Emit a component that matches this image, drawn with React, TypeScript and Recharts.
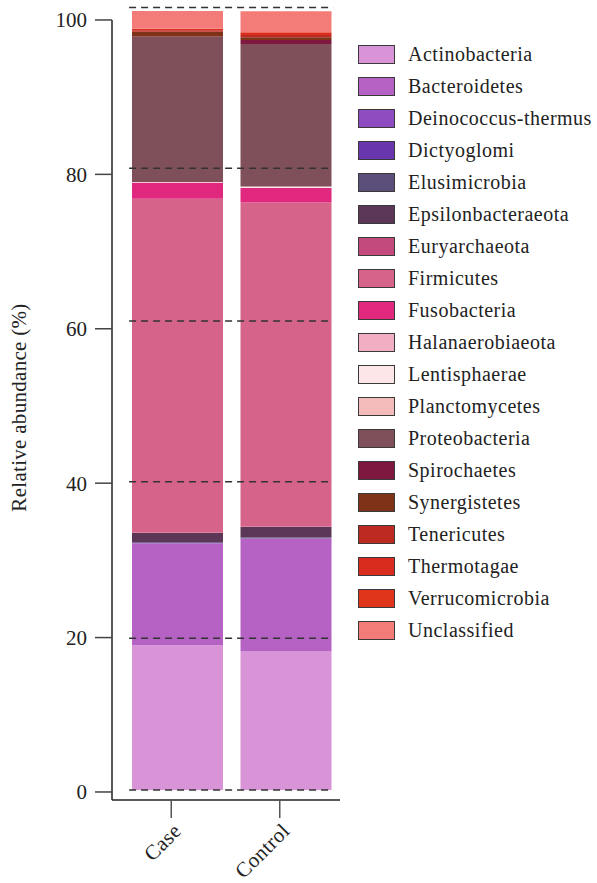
import React from 'react';
import { BarChart, Bar, XAxis, YAxis, Legend, ReferenceLine } from 'recharts';

const fontFamily = '"Liberation Serif", "DejaVu Serif", serif';

const categories = ['Case', 'Control'];

const phyla = [
  'Actinobacteria',
  'Bacteroidetes',
  'Deinococcus-thermus',
  'Dictyoglomi',
  'Elusimicrobia',
  'Epsilonbacteraeota',
  'Euryarchaeota',
  'Firmicutes',
  'Fusobacteria',
  'Halanaerobiaeota',
  'Lentisphaerae',
  'Planctomycetes',
  'Proteobacteria',
  'Spirochaetes',
  'Synergistetes',
  'Tenericutes',
  'Thermotagae',
  'Verrucomicrobia',
  'Unclassified'
];

const phylumColors = [
  '#D994D8',
  '#B562C4',
  '#8E4CC0',
  '#6A36AE',
  '#5B4F7A',
  '#5C3657',
  '#C34A7D',
  '#D6648A',
  '#E0287F',
  '#F2AFC4',
  '#FDE6E8',
  '#F4BBBB',
  '#80505A',
  '#7E1840',
  '#7E3318',
  '#BC2A22',
  '#D92C1F',
  '#E0351A',
  '#F47C78'
];

// relative abundance (%) per phylum, same order as phyla
const caseValues = [
  18.5, 13.0, 0.05, 0.02, 0.08, 1.2, 0.05, 42.65, 2.05, 0.02,
  0.05, 0.02, 18.55, 0.05, 0.6, 0.2, 0.15, 0.05, 2.25
];
const controlValues = [
  17.7, 14.4, 0.05, 0.02, 0.1, 1.35, 0.05, 41.4, 1.85, 0.03,
  0.15, 0.03, 18.2, 0.5, 0.35, 0.3, 0.25, 0.1, 2.7
];

const yTicks = [0, 20, 40, 60, 80, 100];
// dashed guide lines as they sit in the figure (tick axis units)
const dashLevels = [0.26, 19.9, 40.2, 61, 80.8, 101.6];

const data = categories.map((group, ci) => {
  const values = ci === 0 ? caseValues : controlValues;
  const row: Record<string, string | number> = { group };
  phyla.forEach((p, i) => {
    row[p] = values[i];
  });
  return row;
});

const CategoryTick = (props: any) => {
  const { x, y, payload } = props;
  const ly = y + 3;
  return (
    <g>
      <line x1={x - 6} x2={x - 6} y1={y - 24} y2={y - 6} stroke="#555" strokeWidth={1.5} />
      <text
        x={x}
        y={ly}
        dy="0.35em"
        textAnchor="end"
        transform={`rotate(-45, ${x}, ${ly})`}
        fontSize={21}
        fill="#222"
        fontFamily={fontFamily}
        style={{ letterSpacing: 0.4 }}
      >
        {payload.value}
      </text>
    </g>
  );
};

const YLabel = (props: any) => {
  const { viewBox } = props;
  const cx = 19;
  const cy = viewBox.y + viewBox.height / 2 + 4;
  return (
    <text
      x={cx}
      y={cy}
      transform={`rotate(-90, ${cx}, ${cy})`}
      textAnchor="middle"
      dominantBaseline="central"
      fontSize={21}
      fill="#222"
      fontFamily={fontFamily}
      style={{ letterSpacing: 0.3 }}
    >
      Relative abundance (%)
    </text>
  );
};

const renderLegend = () => (
  <div style={{ fontFamily, fontSize: 20, color: '#222' }}>
    {phyla.map((p, i) => (
      <div key={p} style={{ display: 'flex', alignItems: 'center', height: 32 }}>
        <span
          style={{
            display: 'inline-block',
            width: 37,
            height: 19,
            boxSizing: 'border-box',
            border: '1.5px solid #3a3a3a',
            background: phylumColors[i],
            marginRight: 13
          }}
        />
        <span style={{ letterSpacing: 0.5, whiteSpace: 'nowrap', lineHeight: '32px' }}>{p}</span>
      </div>
    ))}
  </div>
);

export default function App() {
  return (
    <div style={{ position: 'absolute', left: 0, top: 0, background: '#fff' }}>
      <BarChart
        width={597}
        height={883}
        data={data}
        margin={{ top: 7, right: 257, bottom: 23, left: 0 }}
        barCategoryGap={9}
      >
        <XAxis
          dataKey="group"
          height={60}
          padding={{ left: 11, right: 0 }}
          axisLine={{ stroke: '#222', strokeWidth: 1.5 }}
          tickLine={false}
          tickSize={18}
          tickMargin={6}
          tick={<CategoryTick />}
          interval={0}
        />
        <XAxis xAxisId="n" type="number" domain={[0, 1]} hide allowDataOverflow />
        <YAxis yAxisId="bar" type="number" hide width={0} domain={[-1.28, 100.06]} allowDataOverflow />
        <YAxis
          yAxisId="tick"
          type="number"
          width={112}
          domain={[-1.04, 101.68]}
          allowDataOverflow
          ticks={yTicks}
          interval={0}
          axisLine={false}
          tickSize={17}
          tickMargin={8}
          tickLine={{ stroke: '#444', strokeWidth: 1.5 }}
          tick={{ fontSize: 21, fill: '#222', fontFamily }}
          label={<YLabel />}
        />
        <Legend
          content={renderLegend}
          layout="vertical"
          align="center"
          verticalAlign="middle"
          wrapperStyle={{ left: 358, top: 38, width: 239 }}
        />
        {phyla.map((p, i) => (
          <Bar
            key={p}
            dataKey={p}
            stackId="a"
            yAxisId="bar"
            fill={phylumColors[i]}
            isAnimationActive={false}
          />
        ))}
        {dashLevels.map((v) => (
          <ReferenceLine
            key={v}
            yAxisId="tick"
            xAxisId="n"
            segment={[{ x: 0.075, y: v }, { x: 0.97, y: v }]}
            stroke="#333"
            strokeWidth={1.5}
            strokeDasharray="7 5"
            ifOverflow="visible"
          />
        ))}
        <ReferenceLine
          yAxisId="tick"
          xAxisId="n"
          segment={[{ x: 0, y: 100 }, { x: 0, y: -1.04 }]}
          stroke="#222"
          strokeWidth={1.5}
          ifOverflow="visible"
        />
      </BarChart>
    </div>
  );
}
